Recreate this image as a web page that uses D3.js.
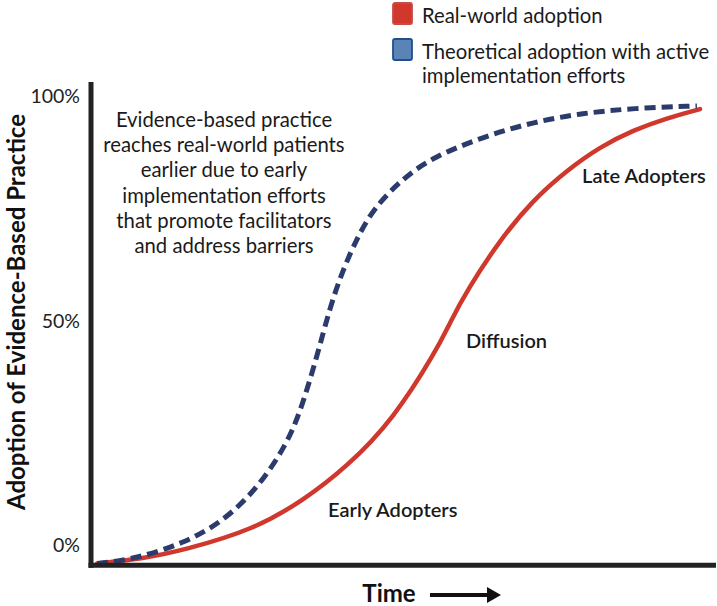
<!DOCTYPE html>
<html>
<head>
<meta charset="utf-8">
<script src="https://cdn.jsdelivr.net/npm/d3@7/dist/d3.min.js"></script>
<style>
  html, body { margin: 0; padding: 0; background: #fff; }
  svg { display: block; font-family: Lato, "Open Sans", sans-serif; }
</style>
</head>
<body>
<svg id="chart" width="717" height="606"></svg>
<script>
// ---- Data (time in arbitrary units 0-100, adoption in % relative to the tick labels) ----
const realTime  = [1, 8, 15, 26, 34, 41, 48.4, 55.4, 57.5, 60.3, 65.5, 70.8, 76.3, 81.6, 86.9, 92.3, 97.6];
const realValue = [-4, -3, -1, 3.5, 10, 17.5, 28, 43.5, 49.6, 56.9, 68, 76.9, 83.6, 88.8, 92.5, 95.2, 97.2];

const theoTime  = [1, 7.1, 15.1, 21.5, 26.8, 31.1, 33.5, 36.2, 38.3, 40.4, 42.6, 45.2, 50, 54.8, 62.8, 70.8, 78.8, 86.9, 97.1];
const theoValue = [-4, -3, 0.6, 5.7, 13, 21.9, 29.5, 42, 53.1, 61.5, 68.3, 75, 81.8, 86.5, 91, 94.3, 96.3, 97.4, 97.9];

const tickValues = [0, 50, 100];
const tickLabels = ["0%", "50%", "100%"];

const legendLabels = [["Real-world adoption"], ["Theoretical adoption with active", "implementation efforts"]];
const annotationLines = [
  "Evidence-based practice",
  "reaches real-world patients",
  "earlier due to early",
  "implementation efforts",
  "that promote facilitators",
  "and address barriers"
];
const stageLabels = ["Early Adopters", "Diffusion", "Late Adopters"];
const stageTime  = [38.0, 60.1, 78.7];
const stageValue = [8, 45.5, 82.3];

// ---- Layout ----
const svg = d3.select("#chart");
const x = d3.scaleLinear().domain([0, 100]).range([91, 715]);
const y = d3.scaleLinear().domain([0, 100]).range([545.5, 96.5]);
const axisColor = "#222";
const red = "#d0382d";
const navy = "#2a3b6c";

// curves
const line = d3.line().x(d => x(d[0])).y(d => y(d[1])).curve(d3.curveBasis);
const realData = realTime.map((t, i) => [t, realValue[i]]);
const theoData = theoTime.map((t, i) => [t, theoValue[i]]);

svg.append("path").attr("d", line(realData))
  .attr("fill", "none").attr("stroke", red).attr("stroke-width", 4.5).attr("stroke-linecap", "round");
svg.append("path").attr("d", line(theoData))
  .attr("fill", "none").attr("stroke", navy).attr("stroke-width", 5)
  .attr("stroke-dasharray", "11,6");

// axes (thick lines)
const axisBottomY = y(-4.4);
svg.append("line").attr("x1", x(0)).attr("x2", x(0)).attr("y1", 82).attr("y2", axisBottomY + 2.5)
  .attr("stroke", axisColor).attr("stroke-width", 5);
svg.append("line").attr("x1", x(0) - 2.5).attr("x2", 716).attr("y1", axisBottomY).attr("y2", axisBottomY)
  .attr("stroke", axisColor).attr("stroke-width", 5);

// tick labels
svg.selectAll("text.tick").data(tickValues).join("text")
  .attr("class", "tick")
  .attr("x", 80).attr("y", d => y(d))
  .attr("dy", "0.35em")
  .attr("text-anchor", "end")
  .attr("font-size", 19.5).attr("fill", "#222")
  .text((d, i) => tickLabels[i]);

// y-axis title
svg.append("text")
  .attr("transform", `translate(25,${312}) rotate(-90)`)
  .attr("text-anchor", "middle")
  .attr("font-size", 24).attr("font-weight", "bold").attr("fill", "#111")
  .text("Adoption of Evidence-Based Practice");

// x-axis title with arrow
svg.append("text").attr("x", 389).attr("y", 602)
  .attr("text-anchor", "middle")
  .attr("font-size", 24).attr("font-weight", "bold").attr("fill", "#111")
  .text("Time");
svg.append("line").attr("x1", 430).attr("x2", 489).attr("y1", 595).attr("y2", 595)
  .attr("stroke", "#111").attr("stroke-width", 4);
svg.append("path").attr("d", "M487,587 L501,595 L487,603 Z").attr("fill", "#111");

// legend
const legendColors = [[red, "#c84a40"], ["#5a84b6", "#1f4f8d"]];
const legendRectY = [3, 39];
const legendBaseline = [23, 59];
legendLabels.forEach((lines, i) => {
  svg.append("rect").attr("x", 393).attr("y", legendRectY[i]).attr("width", 19).attr("height", 21)
    .attr("rx", 2).attr("fill", legendColors[i][0]).attr("stroke", legendColors[i][1]).attr("stroke-width", 1.8);
  lines.forEach((l, j) => {
    svg.append("text").attr("x", 422).attr("y", legendBaseline[i] + j * 23.5)
      .attr("font-size", 20.3).attr("fill", "#1a1a1a").text(l);
  });
});

// annotation
svg.append("g").selectAll("text").data(annotationLines).join("text")
  .attr("x", 224).attr("y", (d, i) => 127 + i * 25.2)
  .attr("text-anchor", "middle")
  .attr("font-size", 20.3).attr("fill", "#1a1a1a")
  .text(d => d);

// stage labels
svg.append("g").selectAll("text").data(stageLabels).join("text")
  .attr("x", (d, i) => x(stageTime[i])).attr("y", (d, i) => y(stageValue[i]))
  .attr("dy", "0.35em")
  .attr("font-size", 20).attr("font-weight", 600).attr("fill", "#1a1a1a")
  .text(d => d);
</script>
</body>
</html>
